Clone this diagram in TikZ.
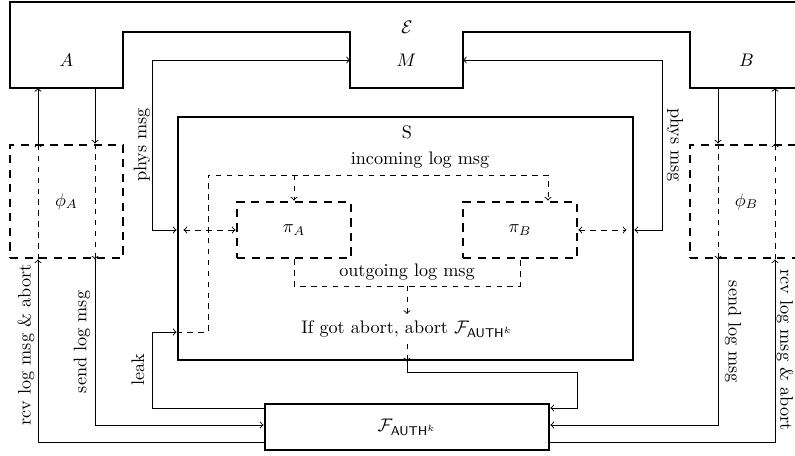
\documentclass[tikz,border=0pt]{standalone}
\usetikzlibrary{calc}
\begin{document}
\begin{tikzpicture}[x=0.55pt,y=0.55pt]
      \tikzstyle{frame}=[draw,line width=1.6pt]
      \tikzstyle{party}=[draw,line width=1.6pt,dash pattern=on 4.5pt off 3.5pt]
      \tikzstyle{region}=[inner sep=0pt,outer sep=0pt,minimum width=62.15pt,minimum height=30.8pt]
      \tikzstyle{wire}=[line width=0.5pt]
      \tikzstyle{lwire}=[line width=0.5pt,dashed]
      \useasboundingbox (0,0) rectangle (795,456);

      % environment
      \node[region] (A) at (66.5,396) {$A$};
      \node[region] (M) at (406.5,396) {$M$};
      \node[region] (B) at (746.5,396) {$B$};
      \node (E) at (407,429) {$\mathcal{E}$};
      \draw[frame] (A.south west) |- (803,454) |- (B.south west) -- (B.north west)
        -- (M.north east) -- (M.south east) -- (M.south west) -- (M.north west)
        -- (A.north east) -- (A.south east) -- cycle;

      % boxes
      \node[party,minimum width=62.15pt,minimum height=62.15pt] (phiA) at (66.5,254.5) {$\phi_A$};
      \node[party,minimum width=62.15pt,minimum height=62.15pt] (phiB) at (746.5,254.5) {$\phi_B$};
      \node[frame,minimum width=250.25pt,minimum height=133.65pt] (S) at (405.5,217.5) {};
      \node (Slbl) at (407,324) {S};
      \node[party,minimum width=62.7pt,minimum height=30.8pt] (piA) at (294,226) {$\pi_A$};
      \node[party,minimum width=62.7pt,minimum height=30.8pt] (piB) at (520,226) {$\pi_B$};
      \node[frame,minimum width=156.2pt,minimum height=25.3pt] (F) at (407,29) {$\mathcal{F}_{\mathsf{AUTH}^k}$};
      \node (inlbl) at (420,296) {incoming log msg};
      \node (outlbl) at (407,184) {outgoing log msg};
      \node (abort) at (407,127) {If got abort, abort $\mathcal{F}_{\mathsf{AUTH}^k}$};

      % lanes
      \coordinate (lrA) at (38,0);
      \coordinate (lsA) at (95,0);
      \coordinate (lsB) at (718,0);
      \coordinate (lrB) at (775,0);
      \coordinate (lpA) at (152,226);
      \coordinate (lpB) at (662,226);
      \coordinate (leak) at (152,124);
      \coordinate (inA) at (208,281);
      \coordinate (outj) at (407,170);
      \coordinate (fj) at (577,84);

      % A side
      \draw[wire,->] (phiA.north -| lrA) -- (A.south -| lrA);
      \draw[wire,->] (A.south -| lsA) -- (phiA.north -| lsA);
      \draw[lwire,->] (phiA.south -| lrA) -- (phiA.north -| lrA);
      \draw[lwire,->] (phiA.north -| lsA) -- (phiA.south -| lsA);
      \draw[wire,->] ($(F.west)+(0,-15)$) -| (phiA.south -| lrA);
      \draw[wire,->] (phiA.south -| lsA) |- ($(F.west)+(0,2)$);
      \draw[wire,->] ($(F.west)+(0,19)$) -| (leak) -- (leak -| S.west);
      \draw[wire,<->] (M.west) -| (lpA) -- (S.west |- piA.west);

      % B side
      \draw[wire,->] (B.south -| lsB) -- (phiB.north -| lsB);
      \draw[wire,->] (phiB.north -| lrB) -- (B.south -| lrB);
      \draw[lwire,->] (phiB.north -| lsB) -- (phiB.south -| lsB);
      \draw[lwire,->] (phiB.south -| lrB) -- (phiB.north -| lrB);
      \draw[wire,->] (phiB.south -| lsB) |- ($(F.east)+(0,2)$);
      \draw[wire,->] ($(F.east)+(0,-15)$) -| (phiB.south -| lrB);
      \draw[wire,<->] (M.east) -| (lpB) -- (S.east |- piB.east);

      % inside S
      \draw[lwire,<->] ($(S.west |- piA.west)+(7,0)$) -- (piA.west);
      \draw[lwire,<->] (piB.east) -- ($(S.east |- piB.east)+(-8,0)$);
      \draw[lwire,->] (leak -| S.west) -| (inA) -| ($(piB.north)+(28,0)$);
      \draw[lwire,->] (piA.north |- inA) -- (piA.north);
      \draw[lwire] (piA.south) |- (outj) -| (piB.south);
      \draw[lwire,->] (outj) -- (abort.north);
      \draw[lwire,->] (abort.south) -- (abort.south |- S.south);
      \draw[wire,->] (abort.south |- S.south) |- (fj) |- ($(F.east)+(0,19)$);

      % labels
      \node[rotate=90] (rcvA) at (26,111) {rcv log msg \& abort};
      \node[rotate=90] (sndA) at (82,114) {send log msg};
      \node[rotate=90] (physA) at (142,311) {phys msg};
      \node[rotate=90] (leaklbl) at (138,86) {leak};
      \node[rotate=-90] (physB) at (675,311) {phys msg};
      \node[rotate=-90] (sndB) at (733,124) {send log msg};
      \node[rotate=-90] (rcvB) at (785,106) {rcv log msg \& abort};
    \end{tikzpicture}
\end{document}
